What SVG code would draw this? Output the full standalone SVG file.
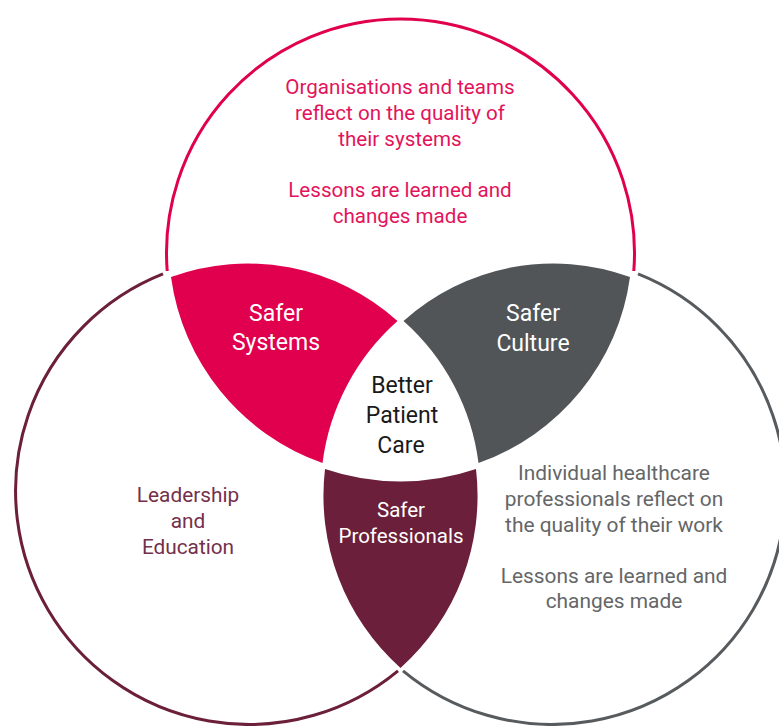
<svg xmlns="http://www.w3.org/2000/svg" width="779" height="726" viewBox="0 0 779 726">
  <style>
    text { font-family: Roboto, "Liberation Sans", sans-serif; text-anchor: middle; }
    .ring { fill: none; stroke-width: 3; }
    .crimson { fill: #E0004D; }
    .slate { fill: #515558; }
    .wine { fill: #6B1F3A; }
    .t-top { fill: #E3135B; font-size: 20.6px; }
    .t-left { fill: #74304B; font-size: 20.8px; }
    .t-right { fill: #646667; font-size: 20.9px; }
    .t-lens { fill: #FFFFFF; font-size: 23px; }
    .t-small { fill: #FFFFFF; font-size: 20.5px; }
    .t-core { fill: #1A1A1A; font-size: 23px; }
  </style>
  <rect width="779" height="726" fill="#FFFFFF"/>

  <g id="circle-systems">
    <path class="ring" stroke="#E0004D" d="M 167.2 271 A 234 234 0 1 1 633.8 271"/>
    <text class="t-top" x="400" y="94">Organisations and teams</text>
    <text class="t-top" x="400" y="120">reflect on the quality of</text>
    <text class="t-top" x="400" y="146">their systems</text>
    <text class="t-top" x="400" y="197">Lessons are learned and</text>
    <text class="t-top" x="400" y="223">changes made</text>
  </g>

  <g id="circle-leadership">
    <path class="ring" stroke="#6B1F3A" d="M 163 273.9 A 233.5 233.5 0 1 0 398 670.8"/>
    <text class="t-left" x="188" y="502">Leadership</text>
    <text class="t-left" x="188" y="528">and</text>
    <text class="t-left" x="188" y="554">Education</text>
  </g>

  <g id="circle-work">
    <path class="ring" stroke="#575B5E" d="M 403 670.8 A 233.5 233.5 0 1 0 638 273.9"/>
    <text class="t-right" x="614" y="480">Individual healthcare</text>
    <text class="t-right" x="614" y="506">professionals reflect on</text>
    <text class="t-right" x="614" y="532">the quality of their work</text>
    <text class="t-right" x="614" y="583">Lessons are learned and</text>
    <text class="t-right" x="614" y="608">changes made</text>
  </g>

  <g id="safer-systems">
    <path class="crimson" d="M 171 277 A 224 224 0 0 1 397.5 321 A 228 228 0 0 0 322.5 463 A 230 230 0 0 1 171 277 Z"/>
    <text class="t-lens" x="276" y="321">Safer</text>
    <text class="t-lens" x="276" y="350">Systems</text>
  </g>

  <g id="safer-culture">
    <path class="slate" d="M 630 277 A 224 224 0 0 0 403.5 321 A 228 228 0 0 1 478.5 463 A 230 230 0 0 0 630 277 Z"/>
    <text class="t-lens" x="533" y="321">Safer</text>
    <text class="t-lens" x="533" y="351">Culture</text>
  </g>

  <g id="safer-professionals">
    <path class="wine" d="M 325 469 A 234 234 0 0 0 476 469 A 231 231 0 0 1 400.5 668 A 231 231 0 0 1 325 469 Z"/>
    <text class="t-small" x="401" y="517">Safer</text>
    <text class="t-small" x="401" y="543">Professionals</text>
  </g>

  <g id="better-patient-care">
    <text class="t-core" x="402" y="393">Better</text>
    <text class="t-core" x="402" y="423">Patient</text>
    <text class="t-core" x="401" y="453">Care</text>
  </g>
</svg>
